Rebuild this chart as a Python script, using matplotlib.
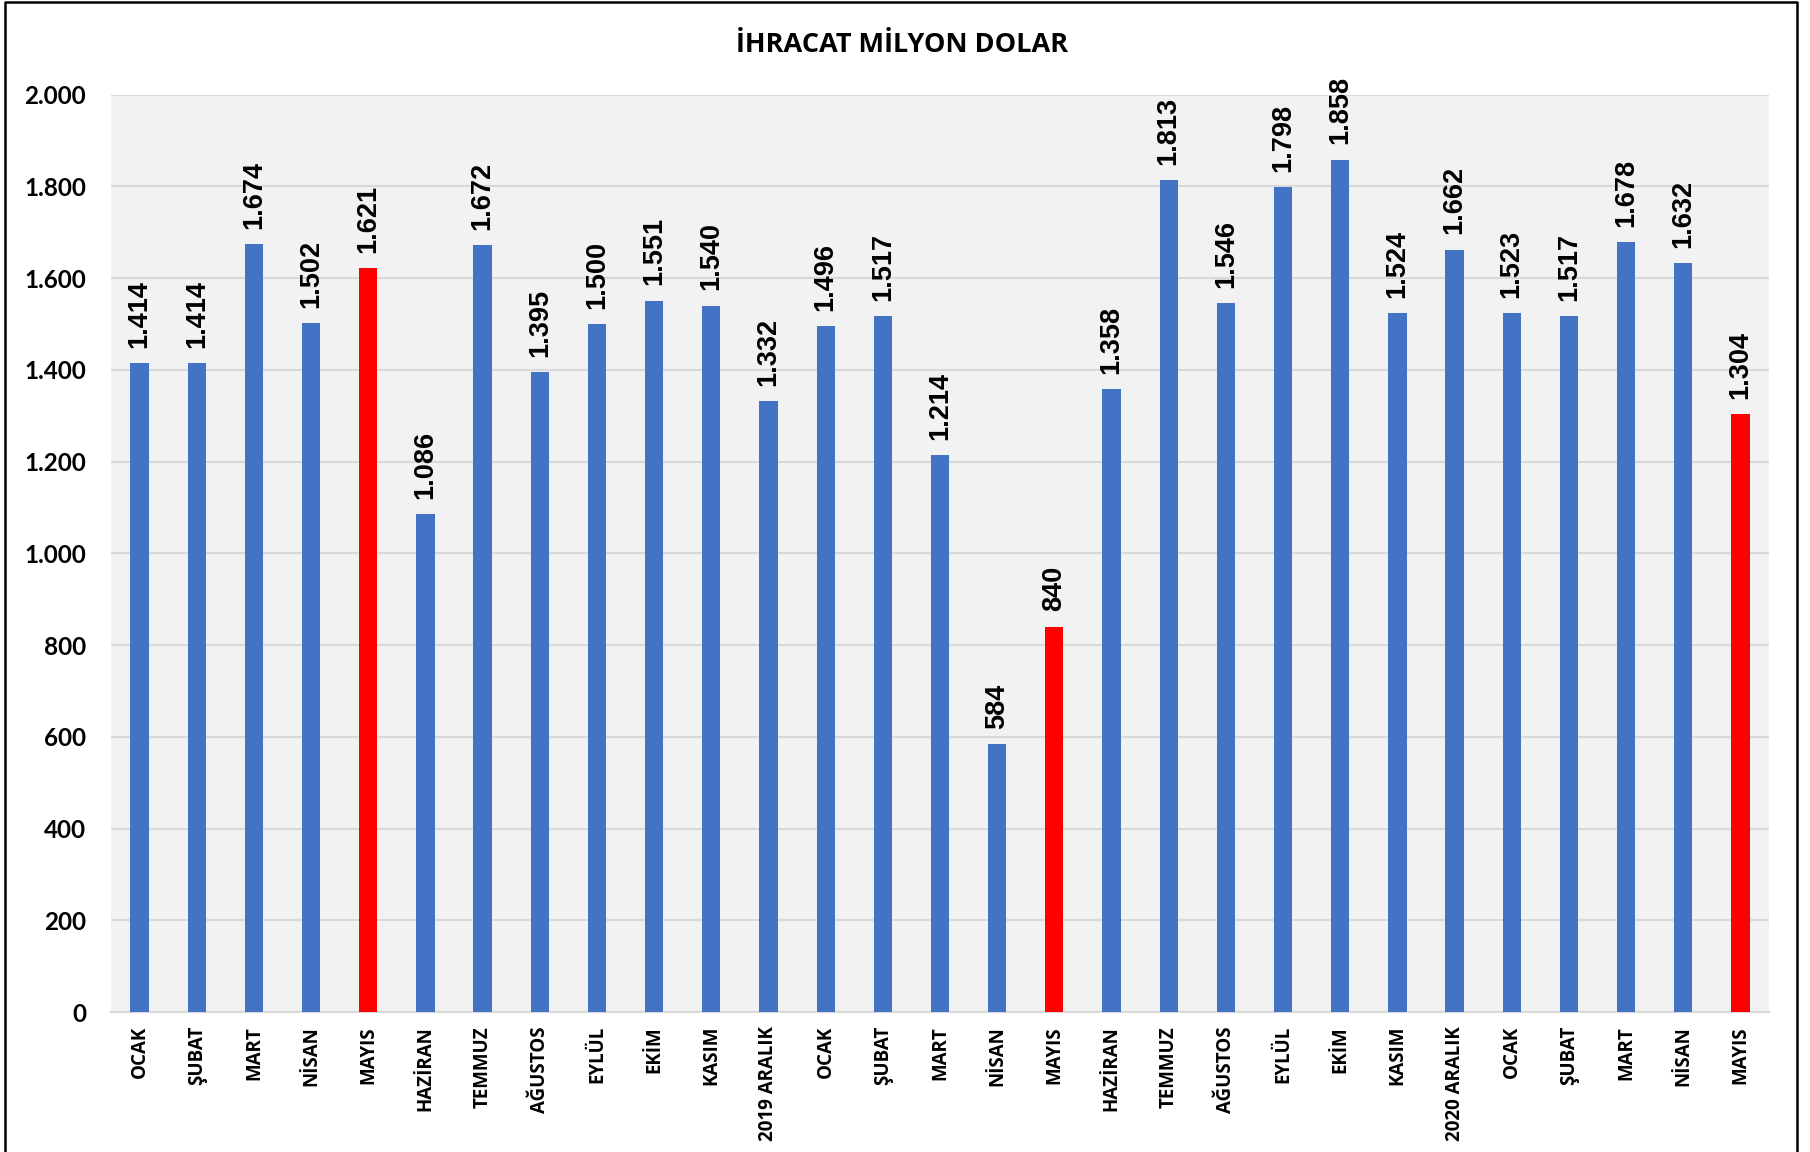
import matplotlib
matplotlib.use("Agg")
import matplotlib.pyplot as plt
from matplotlib.lines import Line2D

categories = ["OCAK", "ŞUBAT", "MART", "NİSAN", "MAYIS", "HAZİRAN", "TEMMUZ", "AĞUSTOS",
              "EYLÜL", "EKİM", "KASIM", "2019 ARALIK",
              "OCAK", "ŞUBAT", "MART", "NİSAN", "MAYIS", "HAZİRAN", "TEMMUZ", "AĞUSTOS",
              "EYLÜL", "EKİM", "KASIM", "2020 ARALIK",
              "OCAK", "ŞUBAT", "MART", "NİSAN", "MAYIS"]
values = [1414, 1414, 1674, 1502, 1621, 1086, 1672, 1395, 1500, 1551, 1540, 1332,
          1496, 1517, 1214, 584, 840, 1358, 1813, 1546, 1798, 1858, 1524, 1662,
          1523, 1517, 1678, 1632, 1304]
highlight = [4, 16, 28]
yticks = [0, 200, 400, 600, 800, 1000, 1200, 1400, 1600, 1800, 2000]
title = "İHRACAT MİLYON DOLAR"

BLUE = "#4472C4"
RED = "#FF0000"

def fmt(v):
    return f"{v:,}".replace(",", ".")

fig = plt.figure(figsize=(18.10, 11.52), dpi=100)
ax = fig.add_axes([111/1810, 1 - 1012/1152, (1769-111)/1810, (1012-94.6)/1152])
ax.set_facecolor("#F2F2F2")

x = list(range(len(categories)))
colors = [RED if i in highlight else BLUE for i in x]
ax.bar(x, values, width=0.32, color=colors, zorder=3)

for xi, v in zip(x, values):
    ax.annotate(fmt(v), (xi, v), xytext=(0, 11), textcoords="offset points",
                rotation=90, ha="center", va="bottom", fontsize=19.5,
                fontweight="bold", family="Liberation Sans", zorder=4)

ax.set_xlim(-0.5, len(categories) - 0.5)
ax.set_ylim(0, 2000)
ax.set_yticks(yticks)
ax.set_yticklabels([fmt(t) for t in yticks], fontsize=17.5, fontweight="bold", family="Lato")
ax.set_xticks(x)
ax.set_xticklabels(categories, rotation=90, fontsize=13.5, fontweight="bold", family="Open Sans")
ax.tick_params(axis="both", length=0)
ax.tick_params(axis="y", pad=18)
ax.tick_params(axis="x", pad=10)
ax.grid(axis="y", color="#D9D9D9", linewidth=1.5, zorder=0)
for s in ["left", "right", "top"]:
    ax.spines[s].set_visible(False)
ax.spines["bottom"].set_color("#D9D9D9")
ax.spines["bottom"].set_linewidth(1.5)

fig.text(902/1810, 1 - 45/1152, title, ha="center", va="center", fontsize=19.5,
         fontweight="bold", family="Open Sans")

# outer frame (left, top, right)
fx0, fx1, fy1 = 5/1810, 1797/1810, 1 - 2/1152
fig.add_artist(Line2D([fx0, fx0, fx1, fx1], [-0.01, fy1, fy1, -0.01],
                      transform=fig.transFigure, color="black", linewidth=1.8))

fig.savefig("out.png", dpi=100)
